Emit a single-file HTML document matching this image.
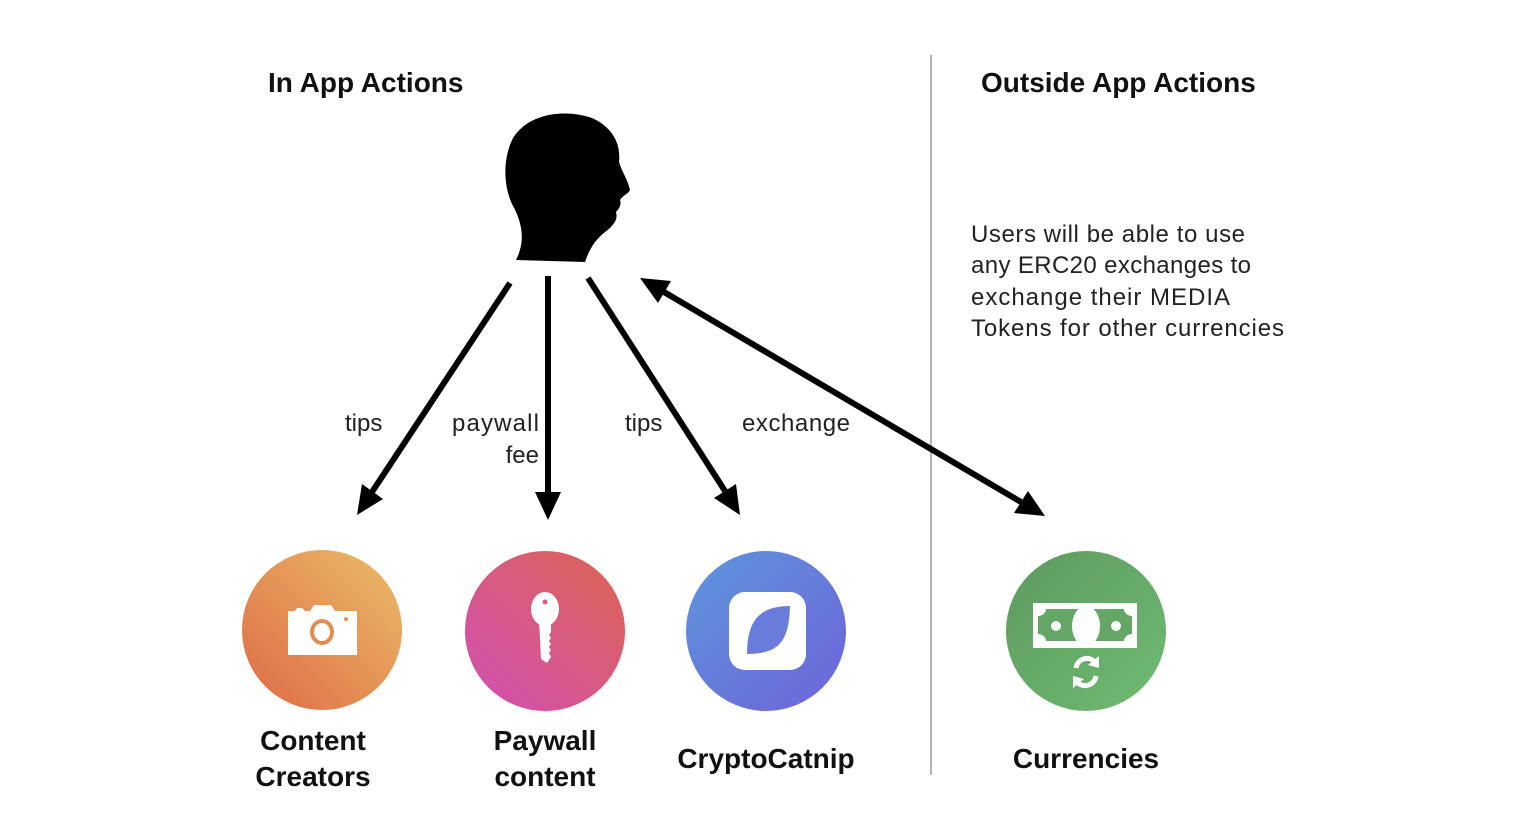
<!DOCTYPE html>
<html><head><meta charset="utf-8"><style>
html,body{margin:0;padding:0;background:#fff;}
body{width:1532px;height:840px;overflow:hidden;position:relative;font-family:"Liberation Sans",sans-serif;}
</style></head><body>
<svg width="1532" height="840" viewBox="0 0 1532 840" xmlns="http://www.w3.org/2000/svg" style="position:absolute;left:0;top:0">
<defs>
<linearGradient id="g1" x1="1" y1="0" x2="0" y2="1"><stop offset="0" stop-color="#ebbd68"/><stop offset="1" stop-color="#de6a45"/></linearGradient>
<linearGradient id="g2" x1="1" y1="0" x2="0" y2="1"><stop offset="0" stop-color="#dc6550"/><stop offset="1" stop-color="#d14fb5"/></linearGradient>
<linearGradient id="g3" x1="0" y1="0" x2="1" y2="1"><stop offset="0" stop-color="#5c96dc"/><stop offset="1" stop-color="#6f63d9"/></linearGradient>
<linearGradient id="g4" x1="0" y1="0" x2="1" y2="1"><stop offset="0" stop-color="#5c9a5f"/><stop offset="1" stop-color="#70bb72"/></linearGradient>
</defs>
<line x1="931" y1="55" x2="931" y2="775" stroke="#999" stroke-width="1.5"/>
<text x="268" y="92" font-size="28" font-weight="bold" fill="#111">In App Actions</text>
<text x="981" y="92" font-size="28" font-weight="bold" fill="#111">Outside App Actions</text>
<g font-size="24" fill="#222">
<text x="971" y="242" textLength="274">Users will be able to use</text>
<text x="971" y="273" textLength="280">any ERC20 exchanges to</text>
<text x="971" y="305" textLength="259">exchange their MEDIA</text>
<text x="971" y="336" textLength="313">Tokens for other currencies</text>
<text x="345" y="431">tips</text>
<text x="539" y="431" text-anchor="end" textLength="87">paywall</text>
<text x="539" y="463" text-anchor="end">fee</text>
<text x="625" y="431">tips</text>
<text x="742" y="431" textLength="108">exchange</text>
</g>
<path d="M516,260 C526,240 522,222 512,204 C503,184 503,158 513,138 C527,115 562,108 592,118 C612,127 621,143 619,162 C622,172 628,180 630,190 C628,194 622,196 620,200 C622,205 618,210 616,212 C618,220 614,223 610,228 C600,236 592,242 585,262 Z" fill="#000"/>
<g stroke="#000" stroke-width="6">
<line x1="510" y1="283" x2="372" y2="492"/>
<line x1="548" y1="276" x2="548" y2="494"/>
<line x1="588" y1="278" x2="725" y2="491"/>
<line x1="664" y1="292" x2="1021" y2="502"/>
</g>
<g fill="#000">
<polygon points="357,515 383,499 362,484"/>
<polygon points="548,520 535,492 561,492"/>
<polygon points="740,515 736,484 714,498"/>
<polygon points="1045,516 1014,513 1028,491"/>
<polygon points="640,278 658,303 671,281"/>
</g>
<circle cx="322" cy="630" r="80" fill="url(#g1)"/>
<circle cx="545" cy="631" r="80" fill="url(#g2)"/>
<circle cx="766" cy="631" r="80" fill="url(#g3)"/>
<circle cx="1086" cy="631" r="80" fill="url(#g4)"/>
<!-- camera -->
<path d="M288,611 h7 l2,-3 h5 l3,3 h5 l4,-6 h17 l4,6 h22 v44 h-69 z" fill="#fff"/>
<ellipse cx="322" cy="632" rx="12" ry="13" fill="#e38d52"/>
<ellipse cx="322" cy="632" rx="8" ry="9" fill="#fff"/>
<circle cx="346" cy="619" r="2" fill="#e38d52"/>
<!-- key -->
<ellipse cx="545" cy="609" rx="14" ry="17" fill="#fff"/>
<circle cx="545" cy="602" r="2.5" fill="#da5a80"/>
<path d="M539,620 h12 v12 l-2,3 2,3 -2,3 2,3 -2,3 2,3 -2,3 2,4 -4,6 -6,-4 z" fill="#fff"/>
<!-- crypto -->
<rect x="729" y="592" width="77" height="78" rx="16" fill="#fff"/>
<path d="M790,606 C760,606 747,620 747,654 C780,654 789,640 790,606 Z" fill="#6a7cdb"/>
<!-- currency -->
<rect x="1033" y="603" width="104" height="45" fill="#fff"/>
<path d="M1046,609 h78 c0,4 4,7 8,7 v18 c-4,0 -8,3 -8,7 h-78 c0,-4 -4,-7 -8,-7 v-18 c4,0 8,-3 8,-7z" fill="#63a666"/>
<ellipse cx="1086" cy="626" rx="14" ry="20" fill="#fff"/>
<circle cx="1056" cy="626" r="5" fill="#fff"/>
<circle cx="1116" cy="626" r="5" fill="#fff"/>
<path d="M1076,668 a11,11 0 0 1 19,-6" stroke="#fff" stroke-width="5" fill="none"/>
<polygon points="1099,656 1099,668 1088,665" fill="#fff"/>
<path d="M1096,676 a11,11 0 0 1 -19,6" stroke="#fff" stroke-width="5" fill="none"/>
<polygon points="1073,688 1073,676 1084,679" fill="#fff"/>
<g font-size="28" font-weight="bold" fill="#111" text-anchor="middle">
<text x="313" y="750">Content</text>
<text x="313" y="786">Creators</text>
<text x="545" y="750">Paywall</text>
<text x="545" y="786">content</text>
<text x="766" y="768">CryptoCatnip</text>
<text x="1086" y="768">Currencies</text>
</g>
</svg>
</body></html>
